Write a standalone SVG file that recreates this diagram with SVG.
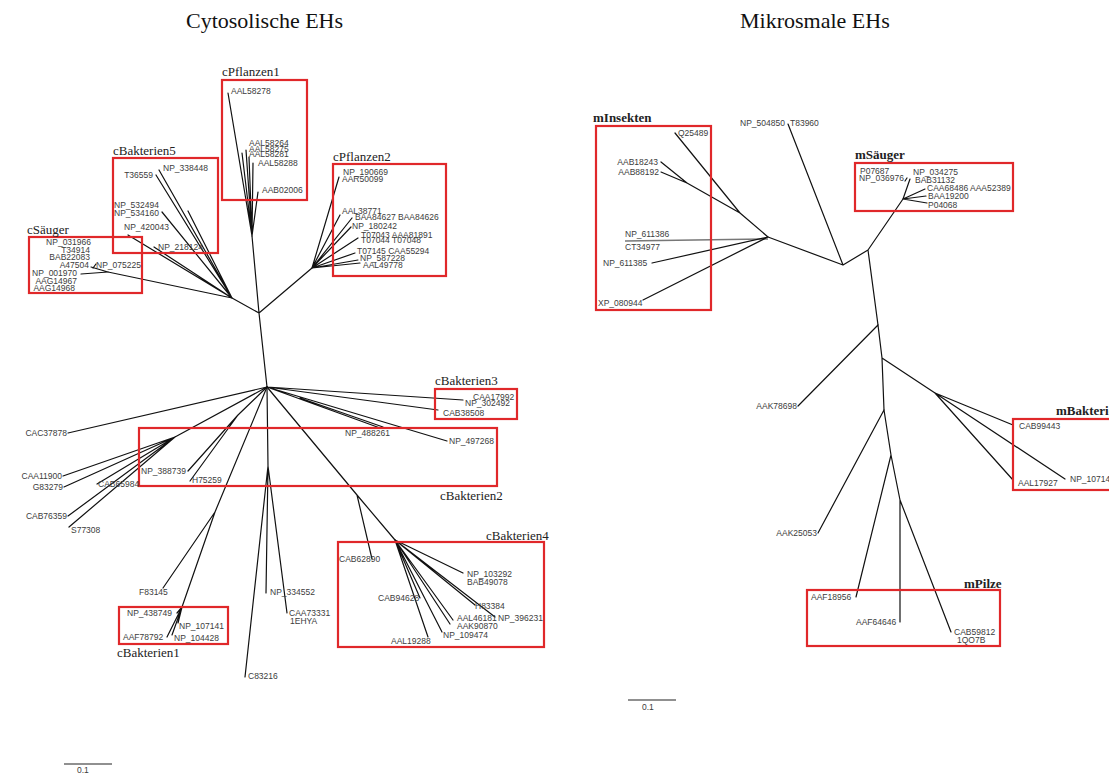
<svg xmlns="http://www.w3.org/2000/svg" width="1109" height="773" viewBox="0 0 1109 773">
  <style>
    .br { stroke: #111; stroke-width: 1.2; fill: none; stroke-linecap: round; }
    .brg { stroke: #777; stroke-width: 1.4; fill: none; }
    .lb { font-family: "Liberation Sans", Arial, sans-serif; font-size: 8.5px; fill: #3c3c3c; }
    .end { text-anchor: end; }
    .cl { font-family: "Liberation Serif", "Times New Roman", serif; font-size: 13px; fill: #222; }
    .clb { font-family: "Liberation Serif", "Times New Roman", serif; font-size: 13px; font-weight: bold; fill: #222; }
    .ttl { font-family: "Liberation Serif", "Times New Roman", serif; font-size: 22px; fill: #111; }
    .box { fill: none; stroke: #e0282a; stroke-width: 2.2; }
    .sc { stroke: #222; stroke-width: 1.2; }
  </style>
  <rect width="1109" height="773" fill="#fff"/>

  <text class="ttl" x="186" y="28">Cytosolische EHs</text>
  <text class="ttl" x="740" y="28">Mikrosmale EHs</text>

  <!-- cytosolic tree branches -->
  <g id="cyt-branches">
    <path class="br" d="M267 387L259 313M259 313L252 236M259 313L232 298M259 313L312 268"/>
    <path class="br" d="M252 236L228 93M252 236L242 153M252 236L246 150M252 236L249 157M252 236L253 163M252 236L258 192"/>
    <path class="br" d="M232 298L156 175M232 298L159 170M232 298L188 211M232 298L162 212M232 298L128 235M232 298L154 247M232 298L108 272"/>
    <path class="br" d="M108 272L91 267M108 272L81 274M93 268L96 264"/>
    <path class="br" d="M312 268L339 177M312 268L340 215M312 268L352 218M312 268L351 227M312 268L358 238M312 268L355 253M312 268L358 260M312 268L360 263"/>
    <path class="br" d="M267 387L68 433M267 387L175 437M175 437L63 476M175 437L64 487M175 437L97 484M175 437L68 516M175 437L69 527"/>
    <path class="br" d="M267 387L238 415M238 415L188 471M238 415L190 481"/>
    <path class="br" d="M267 387L215 512M215 512L163 588M215 512L182 607M182 607L177 613M182 607L178 623M182 607L167 637M182 607L172 635"/>
    <path class="br" d="M267 387L268 466M268 466L266 593M268 466L287 613M268 466L245 677"/>
    <path class="br" d="M267 387L357 495M357 495L372 559M357 495L395 540"/>
    <path class="br" d="M395 540L463 573M395 540L475 605M395 540L495 617M395 540L453 620M395 540L450 624M395 540L442 632M395 540L420 598M395 540L428 637"/>
    <path class="br" d="M267 387L380 428M300 398L383 427M267 387L447 441M267 387L463 400M267 387L438 410"/>
  </g>

  <!-- microsomal tree branches -->
  <g id="mic-branches">
    <path class="brg" d="M625 241L768 239"/>
    <path class="br" d="M768 237L652 263M768 237L643 300M768 237L740 213M740 213L675 133M740 213L687 183M687 183L661 162M687 183L661 172"/>
    <path class="br" d="M768 237L843 265M843 265L788 124M843 265L868 250M868 250L903 199M868 250L878 325"/>
    <path class="br" d="M903 199L910 179M903 199L925 189M903 199L926 196M903 199L927 203M907 178L905 181"/>
    <path class="br" d="M878 325L798 406M878 325L882 358M882 358L884 410M882 358L935 393M935 393L1013 425M935 393L1065 479M935 393L1013 480"/>
    <path class="br" d="M884 410L818 533M884 410L891 455M891 455L856 597M891 455L900 500M900 500L900 622M900 500L951 632"/>
  </g>

  <!-- cytosolic groups -->
  <g id="cPflanzen1">
    <rect class="box" x="222" y="80" width="85" height="120"/>
    <text class="cl" x="222" y="76">cPflanzen1</text>
    <text class="lb" x="231" y="94">AAL58278</text>
    <text class="lb" x="249" y="146">AAL58264</text>
    <text class="lb" x="249" y="152">AAL58275</text>
    <text class="lb" x="249" y="157">AAL58281</text>
    <text class="lb" x="258" y="166">AAL58288</text>
    <text class="lb" x="262" y="193">AAB02006</text>
  </g>

  <g id="cPflanzen2">
    <rect class="box" x="333" y="164" width="113" height="112"/>
    <text class="cl" x="333" y="161">cPflanzen2</text>
    <text class="lb" x="343" y="175">NP_190669</text>
    <text class="lb" x="342" y="182">AAR50099</text>
    <text class="lb" x="342" y="214">AAL38771</text>
    <text class="lb" x="355" y="220">BAA84627 BAA84626</text>
    <text class="lb" x="352" y="229">NP_180242</text>
    <text class="lb" x="361" y="238">T07043 AAA81891</text>
    <text class="lb" x="361" y="243">T07044 T07048</text>
    <text class="lb" x="357" y="254">T07145 CAA55294</text>
    <text class="lb" x="360" y="261">NP_587228</text>
    <text class="lb" x="363" y="268">AAL49778</text>
  </g>

  <g id="cBakterien5">
    <rect class="box" x="113" y="158" width="105" height="95"/>
    <text class="cl" x="113" y="155">cBakterien5</text>
    <text class="lb end" x="153" y="178">T36559</text>
    <text class="lb" x="163" y="171">NP_338448</text>
    <text class="lb" x="114" y="208">NP_532494</text>
    <text class="lb" x="114" y="216">NP_534160</text>
    <text class="lb" x="124" y="230">NP_420043</text>
    <text class="lb" x="158" y="250">NP_218124</text>
  </g>

  <g id="cSaeuger">
    <rect class="box" x="29" y="237" width="113" height="56"/>
    <text class="cl" x="27" y="234">cSäuger</text>
    <text class="lb end" x="91" y="245">NP_031966</text>
    <text class="lb end" x="90" y="253">T34914</text>
    <text class="lb end" x="90" y="260">BAB22083</text>
    <text class="lb end" x="89" y="268">A47504</text>
    <text class="lb" x="96" y="268">NP_075225</text>
    <text class="lb end" x="77" y="276">NP_001970</text>
    <text class="lb end" x="77" y="284">AAG14967</text>
    <text class="lb end" x="75" y="291">AAG14968</text>
  </g>

  <g id="cBakterien3">
    <rect class="box" x="435" y="389" width="82" height="30"/>
    <text class="cl" x="435" y="385">cBakterien3</text>
    <text class="lb" x="473" y="400">CAA17992</text>
    <text class="lb" x="465" y="406">NP_302492</text>
    <text class="lb" x="443" y="416">CAB38508</text>
  </g>

  <g id="cBakterien2">
    <rect class="box" x="139" y="428" width="358" height="58"/>
    <text class="cl" x="440" y="500">cBakterien2</text>
    <text class="lb" x="345" y="436">NP_488261</text>
    <text class="lb" x="449" y="444">NP_497268</text>
    <text class="lb" x="141" y="474">NP_388739</text>
    <text class="lb" x="192" y="483">H75259</text>
  </g>

  <g id="c-unboxed">
    <text class="lb end" x="67" y="436">CAC37878</text>
    <text class="lb end" x="62" y="479">CAA11900</text>
    <text class="lb end" x="63" y="490">G83279</text>
    <text class="lb" x="98" y="487">CAB65984</text>
    <text class="lb end" x="67" y="519">CAB76359</text>
    <text class="lb" x="71" y="533">S77308</text>
    <text class="lb" x="139" y="595">F83145</text>
    <text class="lb" x="270" y="595">NP_334552</text>
    <text class="lb" x="289" y="616">CAA73331</text>
    <text class="lb" x="290" y="624">1EHYA</text>
    <text class="lb" x="248" y="679">C83216</text>
    <text class="lb" x="339" y="562">CAB62890</text>
  </g>

  <g id="cBakterien1">
    <rect class="box" x="119" y="607" width="109" height="37"/>
    <text class="cl" x="117" y="657">cBakterien1</text>
    <text class="lb" x="127" y="616">NP_438749</text>
    <text class="lb" x="179" y="629">NP_107141</text>
    <text class="lb" x="123" y="640">AAF78792</text>
    <text class="lb" x="174" y="641">NP_104428</text>
  </g>

  <g id="cBakterien4">
    <rect class="box" x="338" y="542" width="206" height="105"/>
    <text class="cl" x="486" y="540">cBakterien4</text>
    <text class="lb" x="467" y="577">NP_103292</text>
    <text class="lb" x="467" y="585">BAB49078</text>
    <text class="lb" x="475" y="609">H83384</text>
    <text class="lb" x="498" y="621">NP_396231</text>
    <text class="lb" x="457" y="621">AAL46181</text>
    <text class="lb" x="457" y="629">AAK90870</text>
    <text class="lb" x="443" y="638">NP_109474</text>
    <text class="lb" x="378" y="601">CAB94628</text>
    <text class="lb" x="391" y="644">AAL19288</text>
  </g>

  <!-- microsomal groups -->
  <g id="mInsekten">
    <rect class="box" x="596" y="126" width="115" height="184"/>
    <text class="clb" x="593" y="122">mInsekten</text>
    <text class="lb" x="678" y="136">Q25489</text>
    <text class="lb end" x="658" y="165">AAB18243</text>
    <text class="lb end" x="659" y="175">AAB88192</text>
    <text class="lb" x="625" y="237">NP_611386</text>
    <text class="lb" x="625" y="250">CT34977</text>
    <text class="lb" x="603" y="266">NP_611385</text>
    <text class="lb" x="598" y="306">XP_080944</text>
  </g>

  <g id="m-unboxed">
    <text class="lb" x="740" y="126">NP_504850</text>
    <text class="lb" x="790" y="126">T83960</text>
    <text class="lb end" x="797" y="409">AAK78698</text>
    <text class="lb end" x="817" y="536">AAK25053</text>
  </g>

  <g id="mSaeuger">
    <rect class="box" x="855" y="163" width="158" height="48"/>
    <text class="clb" x="855" y="159">mSäuger</text>
    <text class="lb" x="860" y="174">P07687</text>
    <text class="lb" x="859" y="181">NP_036976</text>
    <text class="lb" x="913" y="175">NP_034275</text>
    <text class="lb" x="915" y="183">BAB31132</text>
    <text class="lb" x="927" y="191">CAA68486 AAA52389</text>
    <text class="lb" x="928" y="199">BAA19200</text>
    <text class="lb" x="928" y="208">P04068</text>
  </g>

  <g id="mBakterien">
    <rect class="box" x="1013" y="419" width="100" height="71"/>
    <text class="clb" x="1056" y="415">mBakterien</text>
    <text class="lb" x="1019" y="429">CAB99443</text>
    <text class="lb" x="1018" y="486">AAL17927</text>
    <text class="lb" x="1070" y="482">NP_10714</text>
  </g>

  <g id="mPilze">
    <rect class="box" x="807" y="590" width="193" height="56"/>
    <text class="clb" x="964" y="588">mPilze</text>
    <text class="lb" x="811" y="600">AAF18956</text>
    <text class="lb" x="856" y="625">AAF64646</text>
    <text class="lb" x="954" y="635">CAB59812</text>
    <text class="lb" x="957" y="643">1QO7B</text>
  </g>

  <!-- scale bars -->
  <g id="scale-bars">
    <line class="sc" x1="64" y1="764" x2="112" y2="764"/>
    <text class="lb" x="77" y="773">0.1</text>
    <line class="sc" x1="628" y1="700" x2="676" y2="700"/>
    <text class="lb" x="642" y="710">0.1</text>
  </g>
</svg>
